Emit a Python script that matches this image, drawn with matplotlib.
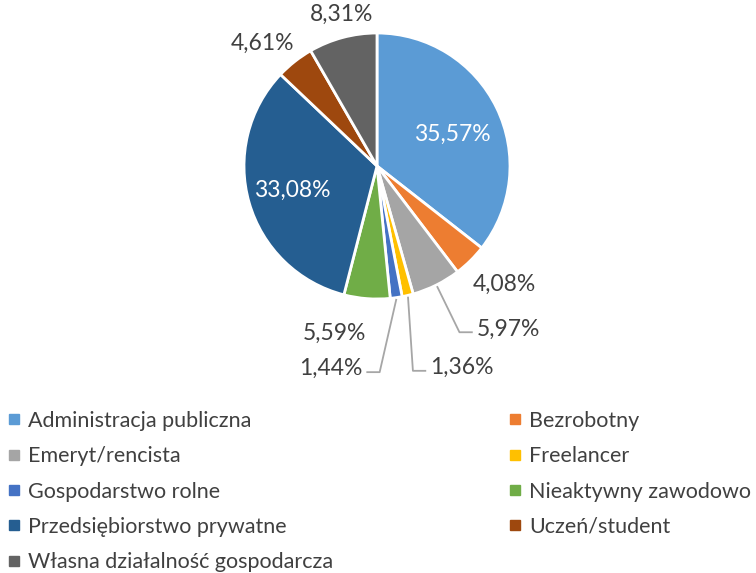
import matplotlib
matplotlib.use('Agg')
import matplotlib.pyplot as plt
from matplotlib.lines import Line2D
import numpy as np

plt.rcParams['font.family'] = ['Lato', 'DejaVu Sans']

categories = ['Administracja publiczna', 'Bezrobotny', 'Emeryt/rencista', 'Freelancer',
              'Gospodarstwo rolne', 'Nieaktywny zawodowo', 'Przedsiębiorstwo prywatne',
              'Uczeń/student', 'Własna działalność gospodarcza']
values = [35.57, 4.08, 5.97, 1.36, 1.44, 5.59, 33.08, 4.61, 8.31]
labels = ['35,57%', '4,08%', '5,97%', '1,36%', '1,44%', '5,59%', '33,08%', '4,61%', '8,31%']
colors = ['#5B9BD5', '#ED7D31', '#A5A5A5', '#FFC000', '#4472C4', '#70AD47',
          '#255E91', '#9E480E', '#636363']

# label layout (data units, pie radius = 1); for leader labels this is the elbow point
label_pos = [(0.57, 0.24), (0.96, -0.89), (0.62, -1.25), (0.27, -1.54), (0.02, -1.55),
             (-0.32, -1.26), (-0.64, -0.18), (-0.86, 0.92), (-0.27, 1.14)]
label_white = [True, False, False, False, False, False, True, False, False]
leader_side = [0, 0, 1, 1, -1, 0, 0, 0, 0]

W, H = 756, 573
fig = plt.figure(figsize=(W / 100, H / 100), dpi=100)
cx, cy, r = 377, 166, 133
ax = fig.add_axes([(cx - r * 1.6) / W, 1 - (cy + r * 1.6) / H, r * 3.2 / W, r * 3.2 / H])

wedges, _ = ax.pie(values, colors=colors, startangle=90, counterclock=False, radius=1,
                   wedgeprops=dict(edgecolor='white', linewidth=2))
ax.set_xlim(-1.6, 1.6)
ax.set_ylim(-1.6, 1.6)
ax.set_aspect('equal')
ax.axis('off')

fs = 16.5
for i, w in enumerate(wedges):
    tx, ty = label_pos[i]
    col = 'white' if label_white[i] else '#404040'
    side = leader_side[i]
    if side:
        ang = np.deg2rad((w.theta1 + w.theta2) / 2)
        ex, ey = np.cos(ang) * 1.01, np.sin(ang) * 1.01
        ax.plot([ex, tx, tx + side * 0.1], [ey, ty, ty], color='#A6A6A6', lw=1.3,
                solid_capstyle='butt', zorder=1)
        ax.text(tx + side * 0.13, ty + 0.025, labels[i], ha='left' if side > 0 else 'right',
                va='center', fontsize=fs, color=col)
    else:
        ax.text(tx, ty, labels[i], ha='center', va='center', fontsize=fs, color=col)

handles = [Line2D([], [], marker='s', linestyle='none', markersize=7, color=c) for c in colors]
left = [0, 2, 4, 6, 8]
right = [1, 3, 5, 7]
for idx, x0 in ((left, 9), (right, 510)):
    fig.legend([handles[k] for k in idx], [categories[k] for k in idx],
               loc='upper left', bbox_to_anchor=(x0 / W, 1 - 411 / H), frameon=False,
               fontsize=15.5, handlelength=0.5, handletextpad=0.4, labelspacing=0.71,
               labelcolor='#404040', borderpad=0, borderaxespad=0)

fig.savefig('out.png', dpi=100, facecolor='white')
